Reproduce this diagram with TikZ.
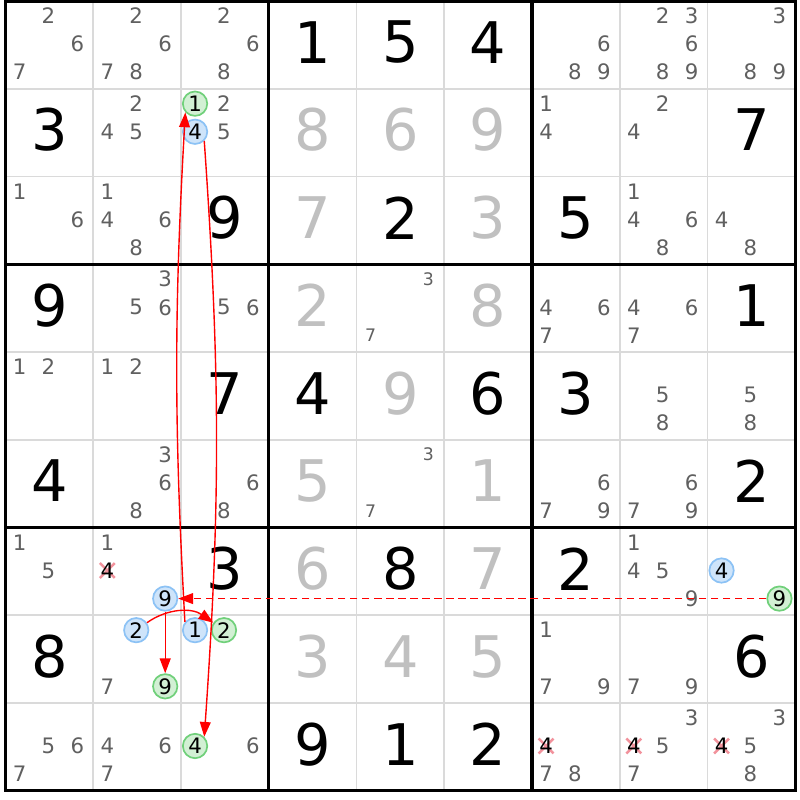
\documentclass[tikz,border=0pt]{standalone}
\usepackage{fontspec}
\setmainfont{DejaVu Sans}
\usetikzlibrary{arrows.meta}
\definecolor{candgray}{RGB}{96,96,96}
\definecolor{faintgray}{RGB}{192,192,192}
\definecolor{gridgray}{RGB}{218,218,218}
\definecolor{onfill}{RGB}{206,228,250}
\definecolor{ondraw}{RGB}{140,194,245}
\definecolor{offfill}{RGB}{210,240,212}
\definecolor{offdraw}{RGB}{112,208,122}
\definecolor{xpink}{RGB}{242,146,156}
\tikzset{digit/.style={inner sep=0, font=\fontsize{18.6}{20}\selectfont}}
\tikzset{faint/.style={digit, text=faintgray}}
\tikzset{cand/.style={inner sep=0, text=candgray, font=\fontsize{6.9}{8}\selectfont}}
\tikzset{smallcand/.style={cand, font=\fontsize{5.6}{7}\selectfont}}
\tikzset{candblue/.style={cand, text=black, circle, draw=ondraw, fill=onfill, line width=0.55pt, minimum size=0.278cm}}
\tikzset{candgreen/.style={candblue, draw=offdraw, fill=offfill}}
\tikzset{xmark/.style={draw=xpink, line width=0.8pt}}
\tikzset{arr/.style={draw, red, line width=0.45pt, -{Triangle[length=4.8pt, width=3.5pt]}}}
\newcommand{\cand}[4][cand]{\node[#1] (k#2#3#4) at ({#3-0.84+0.33*mod(#4-1,3)},{-#2+0.83-0.32*floor((#4-1)/3)}) {#4};}
\newcommand{\xcand}[3]{%
  \coordinate (x#1#2#3) at ({#2-0.84+0.33*mod(#3-1,3)},{-#1+0.83-0.32*floor((#3-1)/3)});
  \draw[xmark] (x#1#2#3) ++(-0.085,-0.085) -- ++(0.17,0.17) (x#1#2#3) ++(-0.085,0.085) -- ++(0.17,-0.17);
  \node[cand, text=black] (k#1#2#3) at (x#1#2#3) {#3};}

\begin{document}
\begin{tikzpicture}
	\fill[white] (-0.0627,0.0114) rectangle (9.054,-9.105);
	\useasboundingbox (-0.0627,0.0114) rectangle (9.054,-9.105);

	% cell lines
	\foreach \i in {1,2,4,5,7,8} {
		\draw[gridgray, line width=0.6pt] (\i,0) -- (\i,-9);
		\draw[gridgray, line width=0.6pt] (0,-\i) -- (9,-\i);
	}
	% box lines
	\foreach \i in {3,6} {
		\draw[line width=1pt] (\i,0) -- (\i,-9);
		\draw[line width=1pt] (0,-\i) -- (9,-\i);
	}
	\draw[line width=1pt] (0,0) rectangle (9,-9);

	% solved cells
	\foreach \r/\c/\d in {1/4/1, 1/5/5, 1/6/4, 2/1/3, 2/9/7, 3/3/9, 3/5/2, 3/7/5,
		4/1/9, 4/9/1, 5/3/7, 5/4/4, 5/6/6, 5/7/3, 6/1/4, 6/9/2, 7/3/3, 7/5/8,
		7/7/2, 8/1/8, 8/9/6, 9/4/9, 9/5/1, 9/6/2}
		\node[digit] (g\r\c) at (\c-0.5,-\r+0.53) {\d};
	\foreach \r/\c/\d in {2/4/8, 2/5/6, 2/6/9, 3/4/7, 3/6/3, 4/4/2, 4/6/8, 5/5/9,
		6/4/5, 6/6/1, 7/4/6, 7/6/7, 8/4/3, 8/5/4, 8/6/5}
		\node[faint] (g\r\c) at (\c-0.5,-\r+0.53) {\d};

	% candidates
	\foreach \r/\c/\ds in {1/1/{2,6,7}, 1/2/{2,6,7,8}, 1/3/{2,6,8}, 1/7/{6,8,9},
		1/8/{2,3,6,8,9}, 1/9/{3,8,9}, 2/2/{2,4,5}, 2/3/{2,5}, 2/7/{1,4}, 2/8/{2,4},
		3/1/{1,6}, 3/2/{1,4,6,8}, 3/8/{1,4,6,8}, 3/9/{4,8}, 4/2/{3,5,6}, 4/3/{5,6},
		4/7/{4,6,7}, 4/8/{4,6,7}, 5/1/{1,2}, 5/2/{1,2}, 5/8/{5,8}, 5/9/{5,8},
		6/2/{3,6,8}, 6/3/{6,8}, 6/7/{6,7,9}, 6/8/{6,7,9}, 7/1/{1,5}, 7/2/{1},
		7/8/{1,4,5,9}, 8/2/{7}, 8/7/{1,7,9}, 8/8/{7,9}, 9/1/{5,6,7}, 9/2/{4,6,7},
		9/3/{6}, 9/7/{7,8}, 9/8/{3,5,7}, 9/9/{3,5,8}}
		{\foreach \d in \ds {\cand{\r}{\c}{\d}}}
	\foreach \r in {4,6} {\foreach \d in {3,7} {\cand[smallcand]{\r}{5}{\d}}}

	% chain
	\cand[candgreen]{2}{3}{1}
	\cand[candblue]{2}{3}{4}
	\cand[candblue]{7}{2}{9}
	\cand[candblue]{7}{9}{4}
	\cand[candgreen]{7}{9}{9}
	\cand[candblue]{8}{2}{2}
	\cand[candgreen]{8}{2}{9}
	\cand[candblue]{8}{3}{1}
	\cand[candgreen]{8}{3}{2}
	\cand[candgreen]{9}{3}{4}
	\xcand{7}{2}{4}
	\xcand{9}{7}{4}
	\xcand{9}{8}{4}
	\xcand{9}{9}{4}

	\draw[arr] (k831.141) to[bend left=3.2] (k231.222);
	\draw[arr] (k234.315) to[bend left=4] (k934.45);
	\draw[arr] (k822) to[bend left=35] (k832);
	\draw[arr] (k729) -- (k829);
	\draw[arr, dash pattern=on 2.4pt off 1.5pt] (k799) -- (k729);
\end{tikzpicture}
\end{document}
